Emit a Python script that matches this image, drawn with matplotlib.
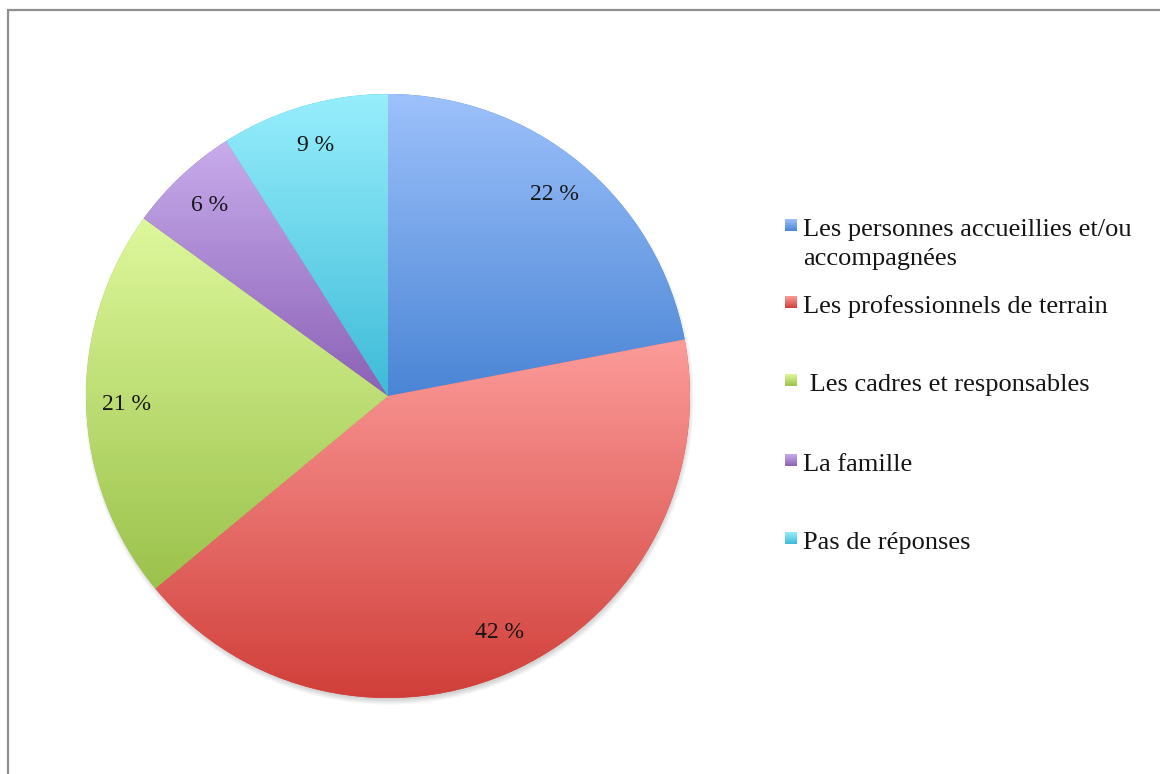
import numpy as np
import matplotlib.pyplot as plt
from matplotlib.colors import LinearSegmentedColormap
from matplotlib.patches import Circle, Rectangle

# --- data ---------------------------------------------------------------
categories = [
    "Les personnes accueillies et/ou\naccompagnées",
    "Les professionnels de terrain",
    " Les cadres et responsables",
    "La famille",
    "Pas de réponses",
]
shares = [22, 42, 21, 6, 9]

# vertical gradient per slice: light at the top, darker at the bottom
top_colors = ["#9dc1fb", "#fc9c9a", "#def89c", "#c8acec", "#97eefc"]
bottom_colors = ["#4a85d5", "#d13f3a", "#9bc24b", "#8b61b6", "#3ebbd8"]

FONT = "Liberation Serif"
W, H = 1160, 774

fig = plt.figure(figsize=(W / 100, H / 100), dpi=100)

# overlay axes in pixel units (y downwards) for the frame and the legend
lax = fig.add_axes([0, 0, 1, 1])
lax.set_xlim(0, W)
lax.set_ylim(H, 0)
lax.axis("off")
lax.plot([8, 8, W], [H, 10, 10], color="#8f8f8f", lw=1.6, clip_on=False,
         solid_joinstyle="miter")

# --- pie ----------------------------------------------------------------
cx, cy, r = 388, 396, 302
ax = fig.add_axes([(cx - r) / W, 1 - (cy + r) / H, 2 * r / W, 2 * r / H])
wedges, _, autotexts = ax.pie(
    shares, startangle=90, counterclock=False, radius=1.0,
    colors=bottom_colors,
    autopct=lambda p: f"{p:.0f} %", pctdistance=0.865,
    wedgeprops=dict(linewidth=0),
    textprops=dict(fontsize=17, family=FONT, color="#151515"),
)

grad = np.linspace(0, 1, 256).reshape(-1, 1)


def fill_gradient(axis, patch, c_top, c_bot, extent):
    cmap = LinearSegmentedColormap.from_list("g", [c_top, c_bot])
    im = axis.imshow(grad, extent=extent, origin="upper", cmap=cmap,
                     aspect="auto", interpolation="bilinear", zorder=1.5)
    im.set_clip_path(patch)
    return im


for w, ct, cb in zip(wedges, top_colors, bottom_colors):
    bb = w.get_path().get_extents()
    fill_gradient(ax, w, ct, cb, [bb.x0, bb.x1, bb.y0, bb.y1])

# soft drop shadow under the disc
for k in range(5):
    ax.add_patch(Circle((0.004, -0.014), 1.0 + 0.004 * (k - 2),
                        color="black", alpha=0.035, lw=0, zorder=0.5,
                        clip_on=False))

for t in autotexts:
    t.set_zorder(4)

ax.set_xlim(-1, 1)
ax.set_ylim(-1, 1)
ax.set_aspect("equal")
ax.axis("off")

# --- legend -------------------------------------------------------------
baselines = [236, 313, 391, 471, 549]
line_gap = 29
for label, base, ct, cb in zip(categories, baselines, top_colors, bottom_colors):
    sq = Rectangle((785, base - 17), 12, 12, facecolor=cb, lw=0)
    lax.add_patch(sq)
    fill_gradient(lax, sq, ct, cb, [785, 797, base - 5, base - 17])
    for j, line in enumerate(label.split("\n")):
        lax.text(803, base + j * line_gap, line, family=FONT, fontsize=19,
                 color="#151515", va="baseline", ha="left")

lax.set_xlim(0, W)
lax.set_ylim(H, 0)

fig.savefig("out.png", dpi=100)
